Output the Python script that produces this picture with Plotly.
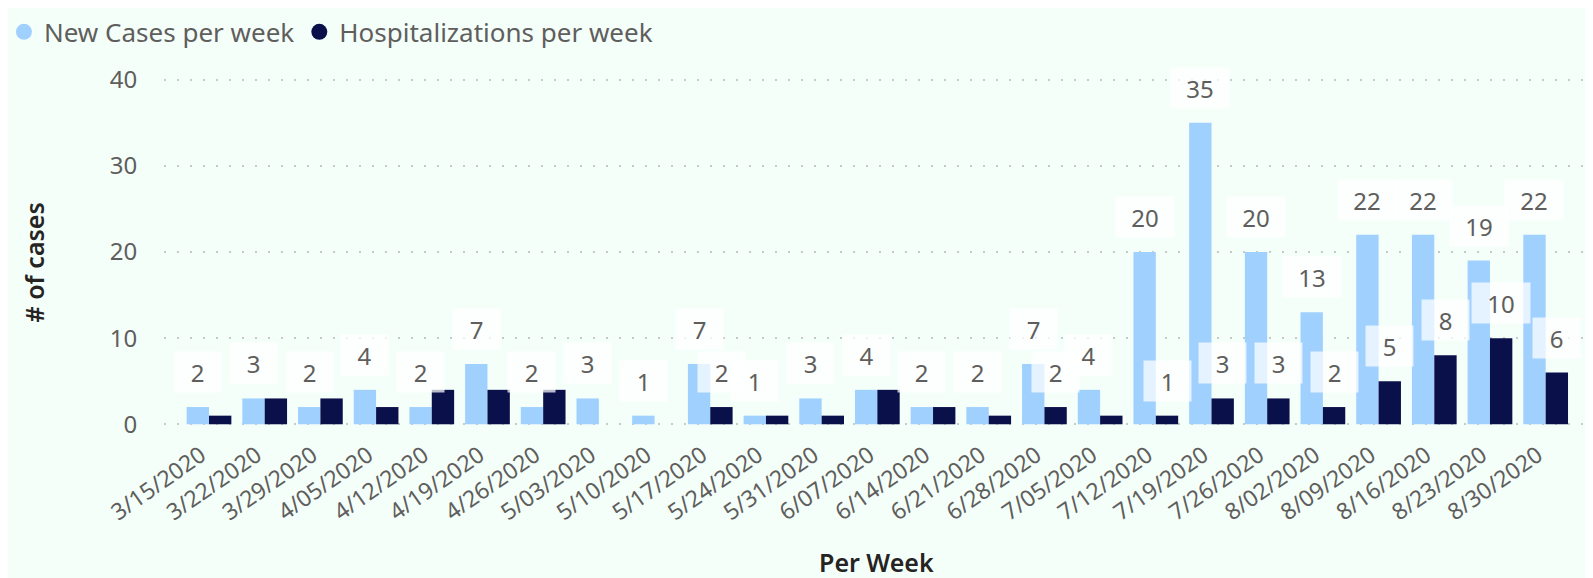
import plotly.graph_objects as go

weeks = ["3/15/2020", "3/22/2020", "3/29/2020", "4/05/2020", "4/12/2020", "4/19/2020",
         "4/26/2020", "5/03/2020", "5/10/2020", "5/17/2020", "5/24/2020", "5/31/2020",
         "6/07/2020", "6/14/2020", "6/21/2020", "6/28/2020", "7/05/2020", "7/12/2020",
         "7/19/2020", "7/26/2020", "8/02/2020", "8/09/2020", "8/16/2020", "8/23/2020",
         "8/30/2020"]
new_cases = [2, 3, 2, 4, 2, 7, 2, 3, 1, 7, 1, 3, 4, 2, 2, 7, 4, 20, 35, 20, 13, 22, 22, 19, 22]
hospitalizations = [1, 3, 3, 2, 4, 4, 4, 0, 0, 2, 1, 1, 4, 2, 1, 2, 1, 1, 3, 3, 2, 5, 8, 10, 6]
# which hospitalization data labels are visible in the original (others hidden by overlap)
hosp_label_shown = [False, False, False, False, False, False, False, False, False, True,
                    False, False, False, False, False, True, False, True, True, True,
                    True, True, True, True, True]
y_ticks = [0, 10, 20, 30, 40]

LIGHT = "#A0D0FE"
DARK = "#0A104A"
TXT = "#605E5C"
TITLE = "#252423"
BG = "#F5FFFA"
FONT = "Noto Sans"

fig = go.Figure()
fig.add_trace(go.Bar(x=weeks, y=new_cases, name="New Cases per week",
                     marker=dict(color=LIGHT, line=dict(width=0)), showlegend=False))
fig.add_trace(go.Bar(x=weeks, y=hospitalizations, name="Hospitalizations per week",
                     marker=dict(color=DARK, line=dict(width=0)), showlegend=False))
# legend entries with circle markers
fig.add_trace(go.Scatter(x=[None], y=[None], mode="markers", name="New Cases per week",
                         marker=dict(color=LIGHT, size=20, symbol="circle")))
fig.add_trace(go.Scatter(x=[None], y=[None], mode="markers", name="Hospitalizations per week",
                         marker=dict(color=DARK, size=20, symbol="circle")))

annotations = []
def label(x, y, xshift):
    t = str(y)
    annotations.append(dict(
        x=x, y=y, xref="x", yref="y", text=t, showarrow=False,
        xshift=xshift, yshift=14, yanchor="bottom", xanchor="center",
        font=dict(family=FONT, size=24, color=TXT),
        bgcolor="rgba(255,255,255,0.72)", borderpad=4,
        width=11 * len(t) + 28, height=32,
    ))

for w, v in zip(weeks, new_cases):
    label(w, v, -11.2)
for w, v, s in zip(weeks, hospitalizations, hosp_label_shown):
    if s:
        label(w, v, 11.2)

annotations.append(dict(
    text="Per Week", xref="paper", yref="paper", x=0.5007, y=-0.39,
    xanchor="center", yanchor="middle", showarrow=False,
    font=dict(family=FONT, size=25, color=TITLE, weight=600)))
annotations.append(dict(
    text="# of cases", xref="paper", yref="paper", x=-0.091, y=0.471,
    xanchor="center", yanchor="middle", showarrow=False, textangle=-90,
    font=dict(family=FONT, size=25, color=TITLE, weight=600)))

fig.update_layout(
    width=1593, height=578,
    margin=dict(l=156, r=13, t=70, b=160, autoexpand=False),
    paper_bgcolor=BG, plot_bgcolor=BG,
    barmode="group", bargap=0.197, bargroupgap=0,
    font=dict(family=FONT, color=TXT),
    legend=dict(orientation="h", xref="paper", yref="paper", x=-0.1124, y=1.2,
                xanchor="left", yanchor="top", font=dict(size=26, color=TXT),
                itemwidth=30, tracegroupgap=0, bgcolor="rgba(0,0,0,0)"),
    annotations=annotations,
    xaxis=dict(type="category", range=[-0.808, 24.76], tickangle=-35,
               tickfont=dict(size=23, color=TXT), showgrid=False, zeroline=False,
               ticks="outside", ticklen=6, tickcolor="rgba(0,0,0,0)", automargin=False,
               ticklabelshift=-8),
    yaxis=dict(range=[-0.2, 40.2], tickvals=y_ticks, tickfont=dict(size=24, color=TXT),
               showgrid=True, gridcolor="#C6C9C8", gridwidth=2, griddash="2px,11px",
               zeroline=False, ticks="outside", ticklen=21, tickcolor="rgba(0,0,0,0)",
               automargin=False),
)

fig.write_html("out.html")
